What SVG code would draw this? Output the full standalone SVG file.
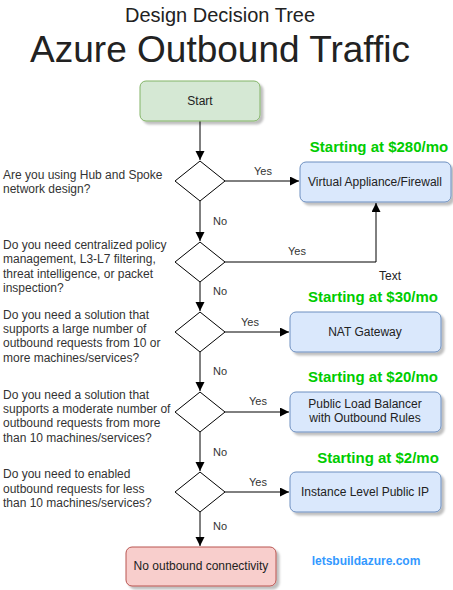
<svg xmlns="http://www.w3.org/2000/svg" width="453" height="590" viewBox="0 0 453 590">
<style>
text{font-family:"Liberation Sans",Arial,sans-serif;fill:#222}
.q{font-size:12px;fill:#333}
.lbl{font-size:11px;fill:#333;text-anchor:middle}
.bt{font-size:12px;text-anchor:middle}
.price{font-size:15px;font-weight:bold;fill:#00cc00;text-anchor:middle}
.box{fill:#dae8fc;stroke:#6c8ebf;stroke-width:1;filter:url(#sh)}
.dia{fill:#fff;stroke:#000;stroke-width:1}
.c{fill:none;stroke:#000;stroke-width:1;marker-end:url(#ah)}
</style>
<defs>
<filter id="sh" x="-10%" y="-20%" width="130%" height="160%">
<feDropShadow dx="3" dy="3" stdDeviation="1.2" flood-color="#000" flood-opacity="0.25"/>
</filter>
<marker id="ah" markerWidth="10" markerHeight="10" refX="9" refY="4.5" orient="auto" markerUnits="userSpaceOnUse">
<path d="M0,0 L9,4.5 L0,9 Z" fill="#000"/>
</marker>
</defs>
<rect width="453" height="590" fill="#fff"/>
<g id="title">
<text x="220" y="22" font-size="20" text-anchor="middle">Design Decision Tree</text>
<text x="220" y="62" font-size="37" text-anchor="middle">Azure Outbound Traffic</text>
</g>
<g id="connectors">
<path class="c" d="M200,121 V160"/>
<path class="c" d="M225,181 H299"/>
<path class="c" d="M200,201 V241"/>
<path class="c" d="M225,262 H376 V203"/>
<path class="c" d="M200,282 V311"/>
<path class="c" d="M225,332 H289"/>
<path class="c" d="M200,352 V391"/>
<path class="c" d="M225,412 H289"/>
<path class="c" d="M200,432 V471"/>
<path class="c" d="M225,492 H289"/>
<path class="c" d="M200,512 V546"/>
<text class="lbl" x="263" y="175">Yes</text>
<text class="lbl" x="220" y="225">No</text>
<text class="lbl" x="297" y="255">Yes</text>
<text class="lbl" x="220" y="295">No</text>
<text class="lbl" x="250" y="326">Yes</text>
<text class="lbl" x="220" y="375">No</text>
<text class="lbl" x="258" y="405">Yes</text>
<text class="lbl" x="220" y="456">No</text>
<text class="lbl" x="258" y="486">Yes</text>
<text class="lbl" x="220" y="530">No</text>
</g>
<g id="start">
<rect x="140" y="81" width="120" height="40" rx="6" fill="#d5e8d4" stroke="#82b366" filter="url(#sh)"/>
<text class="bt" x="200" y="105">Start</text>
</g>
<g id="d1">
<path class="dia" d="M200,161 L225,181 L200,201 L175,181 Z"/>
<text class="q" x="3" y="179">Are you using Hub and Spoke</text>
<text class="q" x="3" y="193">network design?</text>
</g>
<g id="d2">
<path class="dia" d="M200,242 L225,262 L200,282 L175,262 Z"/>
<text class="q" x="3" y="249">Do you need centralized policy</text>
<text class="q" x="3" y="263">management, L3-L7 filtering,</text>
<text class="q" x="3" y="278">threat intelligence, or packet</text>
<text class="q" x="3" y="292">inspection?</text>
</g>
<g id="d3">
<path class="dia" d="M200,312 L225,332 L200,352 L175,332 Z"/>
<text class="q" x="3" y="319">Do you need a solution that</text>
<text class="q" x="3" y="333">supports a large number of</text>
<text class="q" x="3" y="347">outbound requests from 10 or</text>
<text class="q" x="3" y="362">more machines/services?</text>
</g>
<g id="d4">
<path class="dia" d="M200,392 L225,412 L200,432 L175,412 Z"/>
<text class="q" x="3" y="399">Do you need a solution that</text>
<text class="q" x="3" y="413">supports a moderate number of</text>
<text class="q" x="3" y="427">outbound requests from more</text>
<text class="q" x="3" y="442">than 10 machines/services?</text>
</g>
<g id="d5">
<path class="dia" d="M200,472 L225,492 L200,512 L175,492 Z"/>
<text class="q" x="3" y="478">Do you need to enabled</text>
<text class="q" x="3" y="493">outbound requests for less</text>
<text class="q" x="3" y="507">than 10 machines/services?</text>
</g>
<g id="va">
<text class="price" x="379" y="152">Starting at $280/mo</text>
<rect class="box" x="300" y="162" width="151" height="40" rx="6"/>
<text class="bt" x="375" y="186">Virtual Appliance/Firewall</text>
</g>
<g id="textlabel">
<text x="390" y="280" font-size="12" text-anchor="middle">Text</text>
</g>
<g id="nat">
<text class="price" x="373" y="302">Starting at $30/mo</text>
<rect class="box" x="290" y="312" width="151" height="40" rx="6"/>
<text class="bt" x="365" y="336">NAT Gateway</text>
</g>
<g id="plb">
<text class="price" x="373" y="382">Starting at $20/mo</text>
<rect class="box" x="290" y="392" width="151" height="40" rx="6"/>
<text class="bt" x="365" y="408">Public Load Balancer</text>
<text class="bt" x="365" y="422">with Outbound Rules</text>
</g>
<g id="pip">
<text class="price" x="378" y="463">Starting at $2/mo</text>
<rect class="box" x="290" y="472" width="151" height="40" rx="6"/>
<text class="bt" x="365" y="496">Instance Level Public IP</text>
</g>
<g id="none">
<rect x="126" y="547" width="150" height="39" rx="6" fill="#f8cecc" stroke="#b85450" filter="url(#sh)"/>
<text class="bt" x="201" y="570">No outbound connectivity</text>
</g>
<g id="site">
<text x="366" y="565" font-size="12" font-weight="bold" fill="#3399ff" text-anchor="middle" style="fill:#3399ff">letsbuildazure.com</text>
</g>
</svg>
